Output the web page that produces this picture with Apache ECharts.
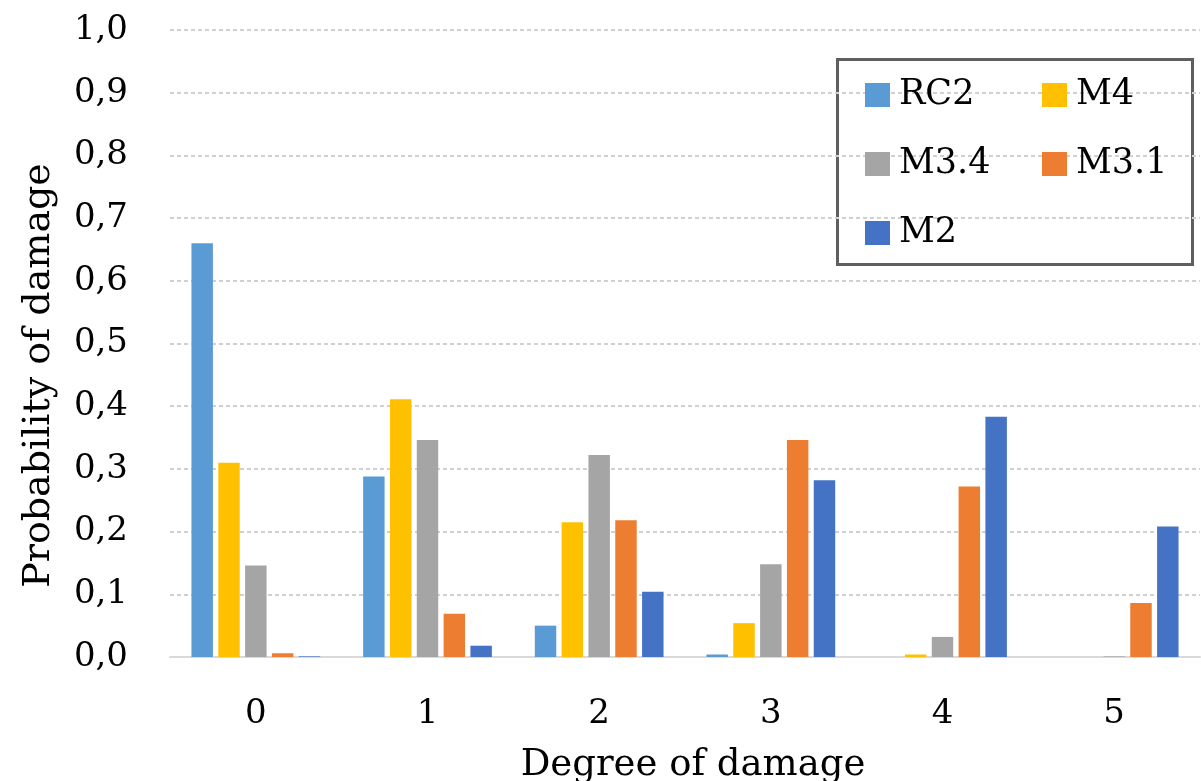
<!DOCTYPE html>
<html lang="en">

<head>
  <meta charset="UTF-8">
  <title>Probability of damage</title>
  <script src="https://cdn.jsdelivr.net/npm/echarts@6/dist/echarts.min.js"></script>
  <style>
    html, body { margin: 0; padding: 0; background: #fff; }
  </style>
</head>

<body>
  <div id="main" style="width: 1201px;height:781px;"></div>
  <script>
    // 数据
    var degrees = ['0', '1', '2', '3', '4', '5'];
    var rc2 = [0.66, 0.288, 0.05, 0.004, 0, 0];
    var m4 = [0.31, 0.411, 0.215, 0.054, 0.004, 0];
    var m34 = [0.146, 0.346, 0.322, 0.148, 0.032, 0.001];
    var m31 = [0.006, 0.069, 0.218, 0.346, 0.272, 0.086];
    var m2 = [0.001, 0.018, 0.104, 0.282, 0.383, 0.208];

    var font = 'DejaVu Serif';
    var myChart = echarts.init(document.getElementById('main'));

    function bar(name, data, color) {
      return {
        name: name,
        type: 'bar',
        data: data,
        barGap: '25%',
        barCategoryGap: '25%',
        itemStyle: { color: color }
      };
    }

    var legendText = { fontFamily: font, fontSize: 35, color: '#000', lineHeight: 40, padding: [0, 0, 0, 4] };

    var option = {
      animation: false,
      // 不让坐标轴名称把绘图区挤小
      grid: { left: 170, right: 1, top: 30, bottom: 124, outerBoundsMode: 'none' },
      legend: [
        {
          orient: 'vertical', left: 860, top: 70, itemGap: 29,
          itemWidth: 25, itemHeight: 24, icon: 'rect',
          textStyle: legendText,
          data: ['RC2', 'M3.4', 'M2']
        },
        {
          orient: 'vertical', left: 1037, top: 70, itemGap: 29,
          itemWidth: 25, itemHeight: 24, icon: 'rect',
          textStyle: legendText,
          data: ['M4', 'M3.1']
        }
      ],
      // 图例外框
      graphic: [{
        type: 'rect', left: 836, top: 58, z: 0,
        shape: { width: 355, height: 205 },
        style: { fill: '#fff', stroke: '#5f5f5f', lineWidth: 3 }
      }],
      xAxis: {
        type: 'category',
        data: degrees,
        name: 'Degree of damage',
        nameLocation: 'middle',
        nameGap: 90,
        nameTextStyle: { fontFamily: font, fontSize: 37, color: '#000', padding: [0, 0, 0, 16] },
        axisLine: { lineStyle: { color: '#d9d9d9', width: 2 } },
        axisTick: { length: 15, lineStyle: { color: '#d9d9d9', width: 2 } },
        axisLabel: { fontFamily: font, fontSize: 34, color: '#000', margin: 40 }
      },
      yAxis: {
        type: 'value',
        min: 0, max: 1, interval: 0.1,
        name: 'Probability of damage',
        nameLocation: 'middle',
        nameGap: 112,
        nameTextStyle: { fontFamily: font, fontSize: 38, color: '#000', padding: [0, 64, 0, 0] },
        axisLine: { show: false },
        axisTick: { show: false },
        splitLine: { lineStyle: { color: '#d0d0d0', width: 2, type: [4, 3] } },
        axisLabel: {
          fontFamily: font, fontSize: 34, color: '#000', margin: 42,
          formatter: function (v) { return v.toFixed(1).replace('.', ','); }
        }
      },
      series: [
        bar('RC2', rc2, '#5B9BD5'),
        bar('M4', m4, '#FFC000'),
        bar('M3.4', m34, '#A5A5A5'),
        bar('M3.1', m31, '#ED7D31'),
        bar('M2', m2, '#4472C4')
      ]
    };
    myChart.setOption(option);
  </script>
</body>

</html>
